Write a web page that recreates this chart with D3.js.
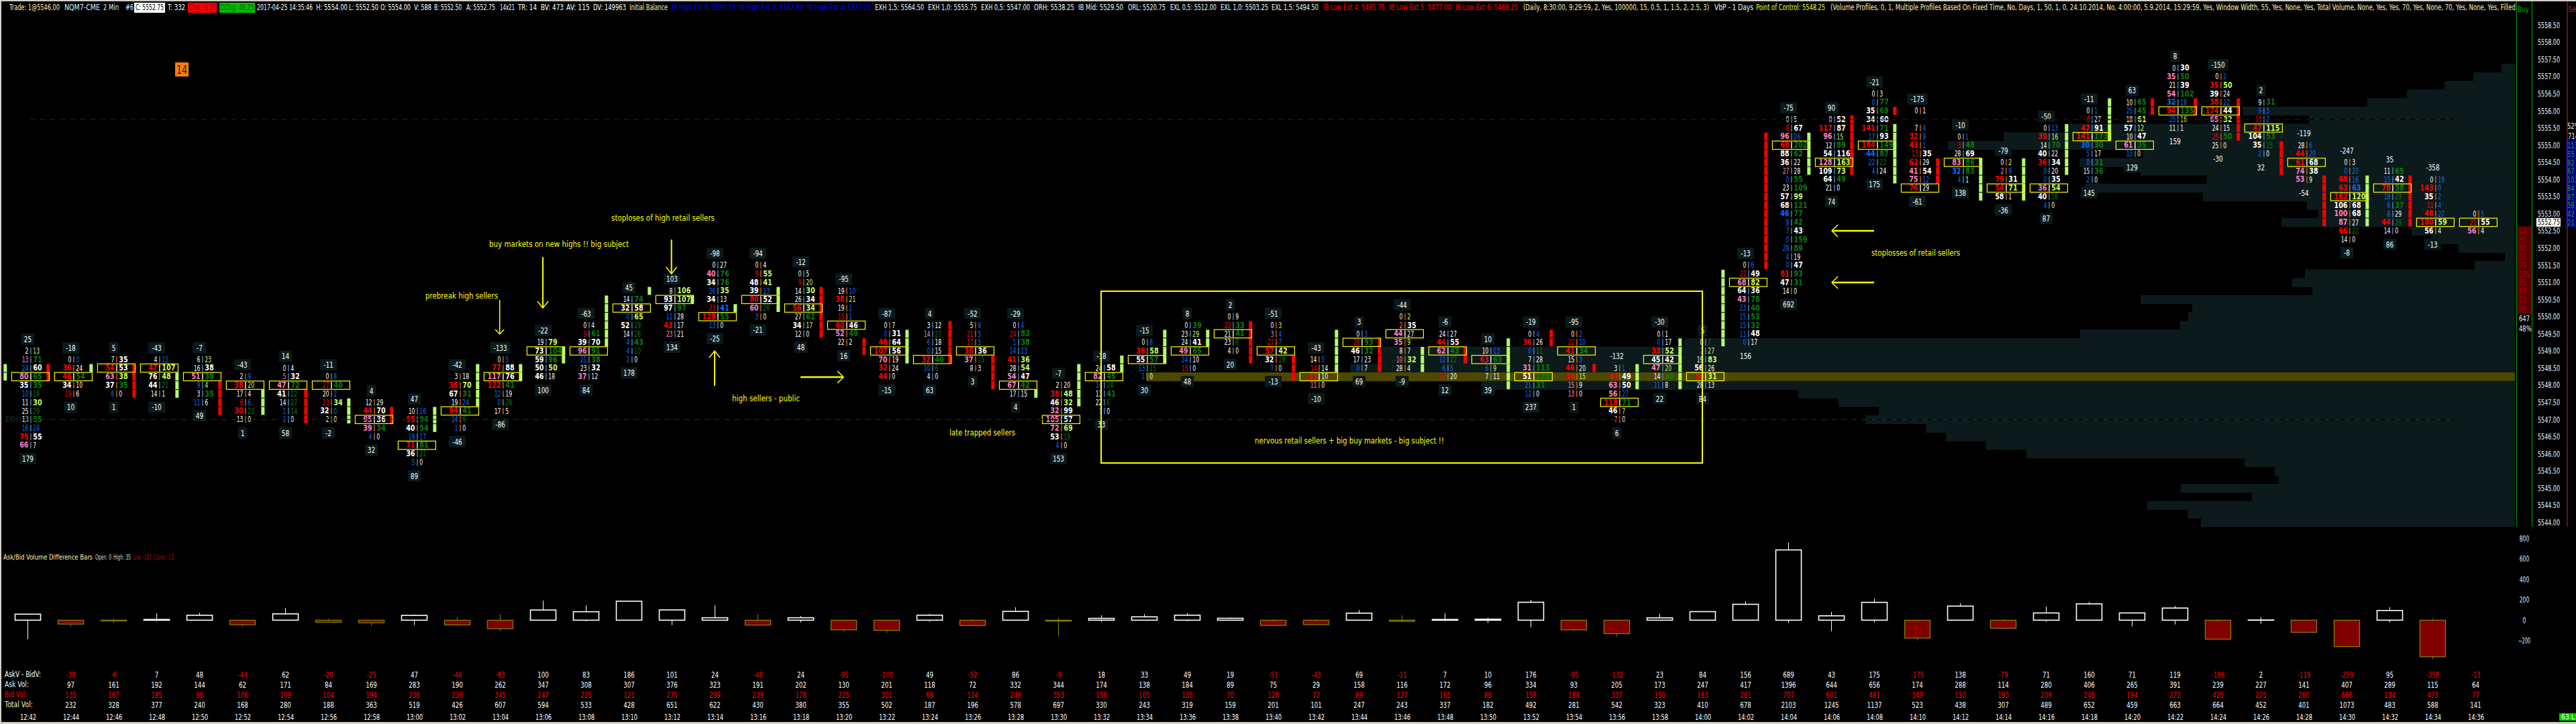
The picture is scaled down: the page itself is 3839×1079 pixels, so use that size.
<!DOCTYPE html>
<html><head><meta charset="utf-8">
<style>html,body{margin:0;padding:0;background:#000;overflow:hidden}svg{display:block}</style>
<script src="https://cdnjs.cloudflare.com/ajax/libs/d3/7.8.5/d3.min.js"></script>
</head><body><svg id="c" width="3839" height="1079"></svg>
<script>
const timeLabels=["12:42","12:44","12:46","12:48","12:50","12:52","12:54","12:56","12:58","13:00","13:02","13:04","13:06","13:08","13:10","13:12","13:14","13:16","13:18","13:20","13:22","13:24","13:26","13:28","13:30","13:32","13:34","13:36","13:38","13:40","13:42","13:44","13:46","13:48","13:50","13:52","13:54","13:56","13:58","14:00","14:02","14:04","14:06","14:08","14:10","14:12","14:14","14:16","14:18","14:20","14:22","14:24","14:26","14:28","14:30","14:32","14:34","14:36"];
const barFootprint=[
"2|13 13|71 24|60 80|65 35|35 10|18 11|30 25|29 13|55 16|24 75|55 66|7",
"0|3 36|24 46|54 34|10 19|6",
"7|35 54|53 63|38 37|35 6|0",
"4|15 47|107 76|48 44|21 14|1",
"6|23 16|38 51|38 9|4 3|35 11|6",
"2|9 38|20 17|4 6|6 30|23 13|0",
"0|4 5|32 47|72 41|22 14|27 1|14 1|0",
"0|8 27|40 20|2 23|34 32|0 2|0",
"12|29 44|70 95|36 39|34 4|0",
"10|16 55|94 40|54 19|17 71|81 36|21 5|0",
"3|18 38|70 67|31 19|24 94|41 14|6 1|0",
"0|5 77|88 117|76 122|41 12|19 0|28 17|5",
"19|79 73|104 59|96 50|50 46|18",
"0|4 9|61 39|70 96|91 21|38 23|32 37|12",
"14|74 32|58 0|65 52|29 14|28 4|43 4|10 1|0",
"8|106 93|107 97|97 11|28 43|17 23|21",
"0|27 40|76 34|76 26|35 34|13 23|41 129|55 13|0",
"0|4 9|55 48|41 39|13 80|52 60|26 3|0",
"0|5 9|20 14|30 26|34 56|34 27|62 34|17 12|0",
"19|10 38|21 19|1 15|1 60|46 52|49 22|2",
"0|7 0|31 48|64 107|56 70|19 32|24 44|0",
"3|12 14|27 6|18 0|15 32|40 10|6 4|0",
"5|8 21|5 17|5 36|36 37|15 8|3",
"0|4 24|83 1|38 14|13 41|36 28|54 54|47 67|42 17|15",
"2|20 38|48 46|32 32|99 105|57 72|69 53|19 4|0",
"24|58 82|45 14|24 13|41 22|6 1|0",
"0|8 36|58 55|57 13|15 1|0",
"0|39 23|29 24|41 49|65 24|10 15|0",
"0|9 22|33 21|41 23|6 4|0",
"0|3 3|4 27|7 57|42 32|19 7|0",
"14|5 14|14 33|10 11|0",
"0|3 26|93 46|32 17|23 0|7",
"0|2 2|35 44|27 35|9 8|7 10|32 28|4",
"24|27 44|55 62|43 12|22 6|5 17|20",
"10|13 63|63 6|9 7|11",
"0|4 36|26 0|11 7|28 31|113 51|120 21|31 12|0",
"0|2 22|10 41|34 15|3 46|20 36|15 15|9 13|0",
"3|1 44|49 63|50 56|27 118|71 46|7 7|0",
"0|1 0|17 33|52 45|42 47|20 14|33 11|8",
"0|7 2|27 19|83 56|26 58|31 28|13",
"0|6 22|49 68|82 64|36 43|78 23|40 15|53 15|32 11|48 0|17",
"0|5 8|67 96|26 68|202 88|62 36|22 27|28 0|55 23|109 57|99 68|121 46|77 9|42 7|43 0|159 28|89 4|19 0|47 81|93 47|31 14|0",
"0|52 117|87 96|15 12|89 54|116 128|163 109|73 64|49 21|0",
"0|3 0|77 35|69 34|60 141|71 17|93 184|149 44|87 22|23 4|24",
"0|1 - 7|4 32|9 43|1 13|35 62|29 41|54 75|12 76|29",
"0|1 3|48 28|69 83|86 32|83 4|1",
"0|2 2|9 79|31 54|71 58|1",
"0|13 39|16 14|70 40|22 36|34 0|20 0|35 36|54 40|16 4|0",
"0|1 6|27 47|91 141|173 30|30 5|17 0|31 15|36 2|0",
"10|65 25|45 18|61 57|12 10|47 61|35 13|0",
"0|30 35|50 21|39 54|102 32|18 94|135 25|16 11|1",
"0|2 35|50 39|24 38|22 174|44 65|32 24|15 25|50 25|0",
"9|31 9|3 19|2 47|115 104|53 35|23 2|0",
"28|6 44|20 61|68 74|38 53|9",
"0|3 0|20 68|16 63|63 162|120 106|68 100|68 87|27 66|22 14|0",
"11|65 15|42 78|58 18|29 6|37 8|29 44|29 14|0",
"0|19 143|0 35|2 11|4 48|27 180|59 56|4",
"0|5 21|55 56|4"];
const barTopTick=[3,2,2,2,2,0,1,0,-3,-4,0,2,4,6,9,10,13,13,12,10,6,6,6,6,-1,1,4,6,7,6,2,5,7,5,3,5,5,1,5,4,13,30,30,33,31,28,25,29,31,32,36,35,32,27,25,24,23,19];
const barPocRow=[3,2,1,1,2,1,2,1,2,4,4,2,1,3,1,1,6,4,4,4,3,4,3,7,4,1,2,3,2,3,2,1,2,2,1,5,2,4,3,4,2,3,5,6,9,3,3,7,3,5,5,4,3,2,4,2,5,1];
const barTopLabel=[25,-18,5,-43,-7,-43,14,-11,4,47,-42,-133,-22,-63,45,103,-98,-94,-12,-95,-87,4,-52,-29,-7,-18,-15,8,2,-51,-43,3,-44,-6,10,-19,-95,-132,-30,5,-13,-75,90,-21,-175,-10,-79,-50,-11,63,8,-150,2,-119,-247,35,-358,null];
const barBottomLabel=[179,10,1,-10,49,1,58,-2,32,89,-46,-86,100,84,178,134,-25,-21,48,16,-15,63,3,4,153,33,30,48,20,-13,-10,69,-9,12,39,237,1,6,22,84,156,692,74,175,-61,138,-36,87,145,129,159,-30,32,-54,-8,86,-13,null];
const markerGap=[-1,0,1,2,3,4,5,6,7,8,9,10,11,12,13,14,15,16,17,18,19,20,21,22,23,24,25,26,27,28,29,30,31,32,33,34,35,36,37,38,39,40,41,42,43,43,44,45,46,47,48,49,50,51,52,53,54,55];
const markerColor="LRLRLRLRLRLLLLLLLLLRRLRRLLLLLRRLRLRLRRLLLRLRRLRLLLLRRRRRLR".split("");
const markerTop=[1,1,1,1,0,-1,-2,-2,-3,-4,-4,1,1,3,9,10,9,8,10,10,4,5,6,2,-2,1,2,5,5,6,2,5,4,3,3,4,5,1,1,4,12,28,28,30,31,29,25,25,25,29,32,32,32,32,27,23,23,23];
const markerBottom=[0,0,1,-2,-2,-4,-4,-5,-5,-5,-6,-3,0,2,4,10,9,8,8,5,3,2,2,-1,-2,-3,1,2,4,2,0,1,1,1,2,-1,4,1,-1,-1,4,13,24,24,31,23,23,21,21,24,28,31,31,28,24,18,18,18];
const profileTopTick=36;
const profileVolume=[20,62,105,161,220,406,307,666,762,845,554,649,558,459,641,465,310,293,348,154,125,84,15,60,313,332,302,558,481,487,499,648,1238,1687,1687,1736,2040,1540,1068,1008,948,968,878,848,788,728,403,358,352,498,392,548,488,468];
const candleHigh=[59,0,15,68,74,9,120,15,0,55,28,61,192,146,186,101,146,61,42,0,0,61,9,127,22,48,61,68,28,9,9,100,48,68,22,199,0,0,61,84,186,760,81,212,0,166,9,133,179,71,140,9,28,0,0,127,15];
const candleLow=[-186,-63,-28,-11,0,-63,0,-20,-55,-48,-55,-107,0,-11,0,-48,0,-55,-22,-114,-127,-15,-52,0,-160,-15,0,-11,0,-51,-43,0,-20,-11,-28,-70,-107,-160,0,0,0,-28,-107,-22,-199,0,-87,-15,0,-61,-42,-186,-35,-119,-259,-22,-382];
const deltaClose=[59,-38,-6,7,48,-44,62,-20,-25,47,-46,-83,100,83,186,101,24,-48,24,-95,-100,49,-52,86,-9,18,33,49,19,-51,-43,69,-11,7,10,176,-95,-132,23,84,156,689,43,175,-175,138,-79,71,160,71,119,-186,2,-119,-259,95,-358];
const tableDelta=[-38,-6,7,48,-44,62,-20,-25,47,-46,-83,100,83,186,101,24,-48,24,-95,-100,49,-52,86,-9,18,33,49,19,-51,-43,69,-11,7,10,176,-95,-132,23,84,156,689,43,175,-175,138,-79,71,160,71,119,-186,2,-119,-259,95,-358,-13];
const tableAsk=[97,161,192,144,62,171,84,169,283,190,262,347,308,307,376,323,191,202,130,201,118,72,332,344,174,138,184,89,75,29,158,116,172,96,334,93,205,173,247,417,1396,644,656,174,288,114,280,406,265,391,239,227,141,407,289,115,64];
const tableBid=[135,167,185,96,106,109,104,194,236,236,345,247,225,121,275,299,239,178,225,301,69,124,246,353,156,105,135,70,126,72,89,127,165,86,158,188,337,150,163,261,707,601,481,349,150,193,209,246,194,272,425,225,260,666,194,473,77];
const tableTotal=[232,328,377,240,168,280,188,363,519,426,607,594,533,428,651,622,430,380,355,502,187,196,578,697,330,243,319,159,201,101,247,243,337,182,492,281,542,323,410,678,2103,1245,1137,523,438,307,489,652,459,663,664,452,401,1073,483,588,141];
const priceTicks=d3.range(5544,5558.51,0.5);
const deltaTicks=[800,600,400,200,0,-200];
const buyColumn=[14,37,60,57,79,105,95,69,72,59];
const sellColumn=[113,55,82,67,103,84,87,58,42,21];
const headerSegments=[
["Trade: 1@5546.00",14,75,"#ffeeb0"],["NQM7-CME",96,53,"#d8f4ff"],["2 Min",154,23,"#d8f4ff"],["#6",187,12,"#d8f4ff"],
["C: 5552.75",202,42,"#000","#fff",200,46],["T: 332",250,26,"#fff"],["Chg: -1.25",282,40,"#7a0000","#ff0000",280,43],["DChg: 49.25",328,51,"#0a5a0a","#00c000",327,53],
["2017-04-25 14:35:46",383,83,"#fff"],["H: 5554.00",471,47,"#fff"],["L: 5552.50",520,44,"#fff"],["O: 5554.00",567,45,"#fff"],["V: 588",617,26,"#fff"],["B: 5552.50",647,41,"#fff"],["A: 5552.75",695,43,"#fff"],["14x21",745,22,"#fff"],["TR: 14",772,28,"#fff"],["BV: 473",806,34,"#fff"],["AV: 115",844,35,"#fff"],["DV: 149963",884,49,"#fff"],
["Initial Balance",938,57,"#ffeeb0"],["IB High Ext 6: 5590.75",1001,95,"#0000ff"],["IB High Ext 5: 5582.00",1101,96,"#0000ff"],["IB High Ext 4: 5573.25",1203,95,"#0000ff"],
["EXH 1,5: 5564.50",1304,73,"#e8fbff"],["EXH 1,0: 5555.75",1383,73,"#e8fbff"],["EXH 0,5: 5547.00",1462,73,"#e8fbff"],["ORH: 5538.25",1541,60,"#e8fbff"],["IB Mid: 5529.50",1607,67,"#e8fbff"],["ORL: 5520.75",1681,56,"#e8fbff"],["EXL 0,5: 5512.00",1744,69,"#e8fbff"],["EXL 1,0: 5503.25",1819,71,"#e8fbff"],["EXL 1,5: 5494.50",1895,70,"#e8fbff"],
["IB Low Ext 4: 5485.75",1972,92,"#ff0000"],["IB Low Ext 5: 5477.00",2070,93,"#ff0000"],["IB Low Ext 6: 5468.25",2169,93,"#ff0000"],
["(Daily, 8:30:00, 9:29:59, 2, Yes, 100000, 15, 0.5, 1, 1.5, 2, 2.5, 3)",2270,277,"#ffeeb0"],["VbP - 1 Days",2555,58,"#e8fbff"],["Point of Control: 5548.25",2617,103,"#e8ff30"],
["(Volume Profiles, 0, 1, Multiple Profiles Based On Fixed Time, No, Days, 1, 50, 1, 0, 24.10.2014, No, 4:00:00, 5.9.2014, 15:29:59, Yes, Window Width, 55, Yes, None, Yes, Total Volume, None, Yes, Yes, 70, Yes, None, 70, Yes, None, Yes, Filled",2728,1021,"#ffeeb0"]];
const noteTexts=[
["prebreak high sellers",634,440,108],["buy markets on new highs !! big subject",729,363,208],["stoploses of high retail sellers",911,324,154],["high sellers - public",1091,593,101],["late trapped sellers",1415,644,98],["nervous retail sellers + big buy markets - big subject !!",1870,656,282],["stoplosses of retail sellers",2789,376,132]];
const noteArrows=[[744.7,447,744.7,498,1.5],[809,383,809,459,2],[1000.7,357,1000.7,408,2],[1065,575,1065,523,2],[1193,562,1257,562,2.5],[2793,344,2730,344,2.5],[2793,421,2730,421,2.5]];
const panelTitle=[["Ask/Bid Volume Difference Bars",5,133,"#ffeeb0"],["Open: 0",142,24,"#c8d8c8"],["High: 35",169,26,"#c8d8c8"],["Low: -187",198,28,"#a01010"],["Close: -13",229,30,"#a01010"]];

const FONT="'DejaVu Sans',Verdana,sans-serif";
const svg=d3.select("#c");
const xBar=d3.scaleLinear().domain([0,57]).range([41.5,3689.5]);
const xTime=d3.scalePoint().domain(timeLabels).range([41.5,3689.5]);
const yPrice=d3.scaleLinear().domain([5544,5558]).range([778.5,63.05]);
const yDelta=d3.scaleLinear().domain([-200,800]).range([954.7,802.7]);
const xProfile=d3.scaleLinear().domain([0,2040]).range([3748,1708]);
const tickPrice=t=>5548.25+t*0.25;
const footX=i=>xBar(i)+4.4;
const ROW=yPrice(5548)-yPrice(5548.25);
const fmt=d3.format(".2f");

function sxText(sel,x,y,sx){return sel.attr("transform",(d,i)=>`translate(${x(d,i)},${y(d,i)}) scale(${typeof sx==="function"?sx(d,i):sx},1)`).attr("font-family",FONT).attr("dominant-baseline","central");}

svg.append("rect").attr("width",3839).attr("height",1079).attr("fill","#000");

// volume profile
const gProf=svg.append("g");
gProf.selectAll("rect").data(profileVolume).join("rect")
 .attr("x",d=>xProfile(d)).attr("width",d=>3748-xProfile(d))
 .attr("y",(d,i)=>yPrice(tickPrice(profileTopTick-i))-ROW/2).attr("height",ROW+0.5)
 .attr("fill",(d,i)=>tickPrice(profileTopTick-i)===5548.25?"#4c4800":"#0c1a1b");

// side markers
const markers=[];
markerGap.forEach((g,k)=>{for(let t=markerTop[k];t>=markerBottom[k];t--)markers.push({g,t,c:markerColor[k]});});
svg.append("g").selectAll("rect").data(markers).join("rect")
 .attr("x",d=>footX(d.g)+23.4).attr("width",5)
 .attr("y",d=>yPrice(tickPrice(d.t))-5.9).attr("height",11.8)
 .attr("fill",d=>d.c==="L"?"#b4ff6e":"#ff0000");

// footprint
const rowsOf=barFootprint.map(s=>s.split(" ").map(r=>r==="-"?null:r.split("|").map(Number)));
const BID={hi:"#ff0000",mid:"#ff80c0",lo:"#0a6cff",n:"#ffffff"};
const ASK={hi:"#0a7d0a",mid:"#c8ff64",lo:"#0a6cff",n:"#ffffff"};
function shade(v,other,P){if(other==null||other===0)return P.n;const r=v/other;return r>=1.5?P.hi:r>=1?P.mid:r<0.4?P.lo:P.n;}
const cells=[],seps=[],boxes=[];
rowsOf.forEach((rows,i)=>{
 const up=d3.sum(rows,r=>r?r[1]:0)>d3.sum(rows,r=>r?r[0]:0);
 rows.forEach((r,k)=>{
  const y=yPrice(tickPrice(barTopTick[i]-k));
  if(k===barPocRow[i])boxes.push({i,y});
  if(!r)return;
  const above=k>0&&rows[k-1]?rows[k-1][1]:null, below=k<rows.length-1&&rows[k+1]?rows[k+1][0]:null;
  cells.push({i,y,v:r[0],side:0,c:shade(r[0],above,BID)});
  cells.push({i,y,v:r[1],side:1,c:shade(r[1],below,ASK)});
  seps.push({i,y,c:k===barPocRow[i]?"#ffffff":(up?"#4f88b8":"#c86a18")});
 });
});
svg.append("g").selectAll("rect").data(boxes).join("rect")
 .attr("x",d=>footX(d.i)-28.5).attr("y",d=>d.y-6.2).attr("width",56).attr("height",12.4)
 .attr("fill","none").attr("stroke","#ffff00").attr("stroke-width",1.2);
svg.append("g").selectAll("rect").data(seps).join("rect")
 .attr("x",d=>footX(d.i)-0.7).attr("y",d=>d.y-5).attr("width",1.4).attr("height",10).attr("fill",d=>d.c);
sxText(svg.append("g").selectAll("text").data(cells).join("text"),
  d=>footX(d.i)+(d.side?3.4:-3.4),d=>d.y,d=>d.v>=30?0.8:0.64)
 .attr("text-anchor",d=>d.side?"start":"end").attr("font-size",12)
 .attr("font-weight",d=>d.v>=30?"bold":"normal").attr("fill",d=>d.c).text(d=>d.v);

// top and bottom labels
const labels=[];
barTopLabel.forEach((v,i)=>{if(v!=null)labels.push({i,v,y:yPrice(tickPrice(barTopTick[i]))-17.6});});
barBottomLabel.forEach((v,i)=>{if(v!=null)labels.push({i,v,y:yPrice(tickPrice(barTopTick[i]-rowsOf[i].length+1))+20});});
svg.append("g").selectAll("rect").data(labels).join("rect")
 .attr("x",d=>xBar(d.i)-(String(d.v).length*5.6+8)/2).attr("width",d=>String(d.v).length*5.6+8)
 .attr("y",d=>d.y-8.3).attr("height",16.6).attr("fill","#0b1b1d");
sxText(svg.append("g").selectAll("text").data(labels).join("text"),d=>xBar(d.i),d=>d.y,0.74)
 .attr("text-anchor","middle").attr("font-size",12).attr("fill","#ffffff").text(d=>d.v);

// dashed EXH lines
[[5547,"#1e3a36"],[5555.75,"#152a27"]].forEach(([p,c])=>{
 svg.append("line").attr("x1",45).attr("x2",3657).attr("y1",yPrice(p)).attr("y2",yPrice(p)).attr("stroke",c).attr("stroke-dasharray","9 6");
 svg.append("line").attr("x1",45).attr("x2",3657).attr("y1",yPrice(p)).attr("y2",yPrice(p)).attr("stroke","#000").attr("stroke-dasharray","9 6").attr("stroke-dashoffset",9);
});
svg.append("text").attr("x",8).attr("y",yPrice(5547)).attr("dominant-baseline","central").attr("font-family",FONT).attr("font-size",12).attr("fill","#20352f").attr("textLength",36).attr("lengthAdjust","spacingAndGlyphs").text("EXH 0,5");

// annotations
svg.append("rect").attr("x",1641).attr("y",434).attr("width",896).attr("height",256).attr("fill","none").attr("stroke","#ffff00").attr("stroke-width",2);
svg.append("g").selectAll("text").data(noteTexts).join("text")
 .attr("x",d=>d[1]).attr("y",d=>d[2]).attr("textLength",d=>d[3]).attr("lengthAdjust","spacingAndGlyphs")
 .attr("dominant-baseline","central").attr("font-family",FONT).attr("font-size",13).attr("fill","#ffff00").text(d=>d[0]);
const aLine=d3.line();
noteArrows.forEach(a=>{
 const [x1,y1,x2,y2,w]=a, L=Math.hypot(x2-x1,y2-y1), ux=(x2-x1)/L, uy=(y2-y1)/L, hl=w>2?9:(w>1.5?10:7), hw=w>2?9:(w>1.5?8:6.5);
 const g=svg.append("g").attr("fill","none").attr("stroke","#ffff00").attr("stroke-width",w);
 g.append("path").attr("d",aLine([[x1,y1],[x2,y2]]));
 g.append("path").attr("stroke-width",1.5).attr("d",aLine([[x2-ux*hl-uy*hw,y2-uy*hl+ux*hw],[x2,y2],[x2-ux*hl+uy*hw,y2-uy*hl-ux*hw]]));
});

// orange flag
svg.append("rect").attr("x",261).attr("y",93).attr("width",20).attr("height",21).attr("fill","#ff8000");
svg.append("text").attr("x",263).attr("y",104).attr("dominant-baseline","central").attr("font-family",FONT).attr("font-size",17).attr("fill","#1a1000").attr("textLength",16).attr("lengthAdjust","spacingAndGlyphs").text("14");

// header
const gH=svg.append("g");
gH.selectAll("rect").data(headerSegments.filter(d=>d[4])).join("rect").attr("x",d=>d[5]).attr("y",4).attr("width",d=>d[6]).attr("height",15).attr("fill",d=>d[4]);
gH.selectAll("text").data(headerSegments).join("text").attr("x",d=>d[1]).attr("y",11).attr("textLength",d=>d[2]).attr("lengthAdjust","spacingAndGlyphs")
 .attr("dominant-baseline","central").attr("font-family",FONT).attr("font-size",12).attr("fill",d=>d[3]).text(d=>d[0]);

// price axis
const pa=svg.append("g").attr("transform","translate(3775,0)").call(d3.axisRight(yPrice).tickValues(priceTicks).tickFormat(fmt).tickSize(0).tickPadding(7));
pa.select(".domain").remove();
pa.selectAll("text").attr("fill","#e4f6ff").attr("font-family",FONT).attr("font-size",12).attr("textLength",33).attr("lengthAdjust","spacingAndGlyphs");
svg.append("rect").attr("x",3780).attr("y",yPrice(5552.75)-6.5).attr("width",36).attr("height",13).attr("fill","#fff");
svg.append("text").attr("x",3782).attr("y",yPrice(5552.75)).attr("dominant-baseline","central").attr("font-family",FONT).attr("font-size",12).attr("fill","#000").attr("textLength",33).attr("lengthAdjust","spacingAndGlyphs").text("5552.75");

// buy / sell columns
svg.append("rect").attr("x",3751).attr("y",yPrice(tickPrice(17))-7).attr("width",21.5).attr("height",131).attr("fill","#5c0000");
sxText(svg.append("g").selectAll("text").data(buyColumn).join("text"),()=>3754,(d,i)=>yPrice(tickPrice(17-i)),0.7)
 .attr("font-size",12).attr("fill","#c00000").text(d=>d);
svg.append("rect").attr("x",3824).attr("y",208).attr("width",15).attr("height",131).attr("fill","#000080");
sxText(svg.append("g").selectAll("text").data(sellColumn).join("text"),()=>3826,(d,i)=>yPrice(tickPrice(27-i)),0.7)
 .attr("font-size",12).attr("fill","#1ca01c").text(d=>d);
[["647",3754,474],["48%",3754,489],["52%",3826,187],["714",3827,202]].forEach(t=>{
 svg.append("text").attr("transform",`translate(${t[1]},${t[2]}) scale(0.7,1)`).attr("dominant-baseline","central").attr("font-family",FONT).attr("font-size",12).attr("fill","#f0f4f0").text(t[0]);
});
[[3750.5,"#00a000"],[3773.5,"#00b000"],[3826,"#d02020"]].forEach(l=>{
 svg.append("line").attr("x1",l[0]).attr("x2",l[0]).attr("y1",2).attr("y2",785).attr("stroke",l[1]).attr("stroke-width",1);
});
[["Buy",3752,"#00a000"],["Sell",3828,"#d02020"]].forEach(t=>{
 svg.append("text").attr("transform",`translate(${t[1]},13) scale(0.72,1)`).attr("dominant-baseline","central").attr("font-family",FONT).attr("font-size",12).attr("fill",t[2]).text(t[0]);
});

// lower panel
svg.append("g").selectAll("text").data(panelTitle).join("text").attr("x",d=>d[1]).attr("y",830).attr("dominant-baseline","central").attr("font-family",FONT).attr("font-size",11).attr("textLength",d=>d[2]).attr("lengthAdjust","spacingAndGlyphs").attr("fill",d=>d[3]).text(d=>d[0]);
const gC=svg.append("g");
gC.selectAll("line").data(deltaClose).join("line")
 .attr("x1",(d,i)=>xBar(i)).attr("x2",(d,i)=>xBar(i)).attr("y1",(d,i)=>yDelta(candleHigh[i])).attr("y2",(d,i)=>yDelta(candleLow[i]))
 .attr("stroke",d=>d>=0?"#fff":"#808000").attr("stroke-width",1);
gC.selectAll("rect").data(deltaClose).join("rect")
 .attr("x",(d,i)=>xBar(i)-19).attr("width",38).attr("y",d=>Math.min(yDelta(d),yDelta(0))).attr("height",d=>Math.abs(yDelta(d)-yDelta(0)))
 .attr("fill",d=>d>=0?"#000":"#800000").attr("stroke",d=>d>=0?"#fff":"#808000").attr("stroke-width",d=>d>=0?1.6:1.3);
const da=svg.append("g").attr("transform","translate(3754,0)").call(d3.axisRight(yDelta).tickValues(deltaTicks).tickSize(0).tickPadding(0).tickFormat(d3.format("d")));
da.select(".domain").remove();
da.selectAll("text").attr("fill","#cfeeff").attr("font-family",FONT).attr("font-size",12).attr("x",8).attr("text-anchor","middle").attr("textLength",d=>d<0?18:d===0?5:14.4).attr("lengthAdjust","spacingAndGlyphs");

// table
const rowsT=[["AskV - BidV:",1005,"#ffffff",54,tableDelta,d=>d<0?"#ff0000":"#ffffff"],["Ask Vol:",1020,"#d8f4ff",36,tableAsk,()=>"#ffffff"],["Bid Vol:",1035,"#ff0000",33,tableBid,()=>"#ff0000"],["Total Vol:",1050,"#ffeeb0",42,tableTotal,()=>"#ffffff"]];
rowsT.forEach(r=>{
 svg.append("text").attr("x",7).attr("y",r[1]).attr("dominant-baseline","central").attr("font-family",FONT).attr("font-size",12).attr("fill",r[2]).attr("textLength",r[3]).attr("lengthAdjust","spacingAndGlyphs").text(r[0]);
 sxText(svg.append("g").selectAll("text").data(r[4]).join("text"),(d,i)=>xBar(i+1),()=>r[1],0.72)
  .attr("text-anchor","middle").attr("font-size",12).attr("fill",r[5]).text(d=>d);
});
const ta=svg.append("g").attr("transform","translate(0,1061)").call(d3.axisBottom(xTime).tickSize(0).tickPadding(0));
ta.select(".domain").remove();
ta.selectAll("text").attr("y",8).attr("dy",0).attr("dominant-baseline","central").attr("fill","#ffffff").attr("font-family",FONT).attr("font-size",12).attr("textLength",24).attr("lengthAdjust","spacingAndGlyphs");
svg.append("rect").attr("x",3814).attr("y",1063).attr("width",25).attr("height",11).attr("fill","#00cc00");
svg.append("text").attr("x",3817).attr("y",1068.5).attr("dominant-baseline","central").attr("font-family",FONT).attr("font-size",11).attr("fill","#e8ffe8").attr("textLength",20).attr("lengthAdjust","spacingAndGlyphs").text("63 L");

// window chrome
svg.append("rect").attr("width",3839).attr("height",2).attr("fill","#d4d0c8");
svg.append("rect").attr("width",2).attr("height",1079).attr("fill","#d4d0c8");
svg.append("rect").attr("y",1076).attr("width",3839).attr("height",3).attr("fill","#d4d0c8");
</script></body></html>
